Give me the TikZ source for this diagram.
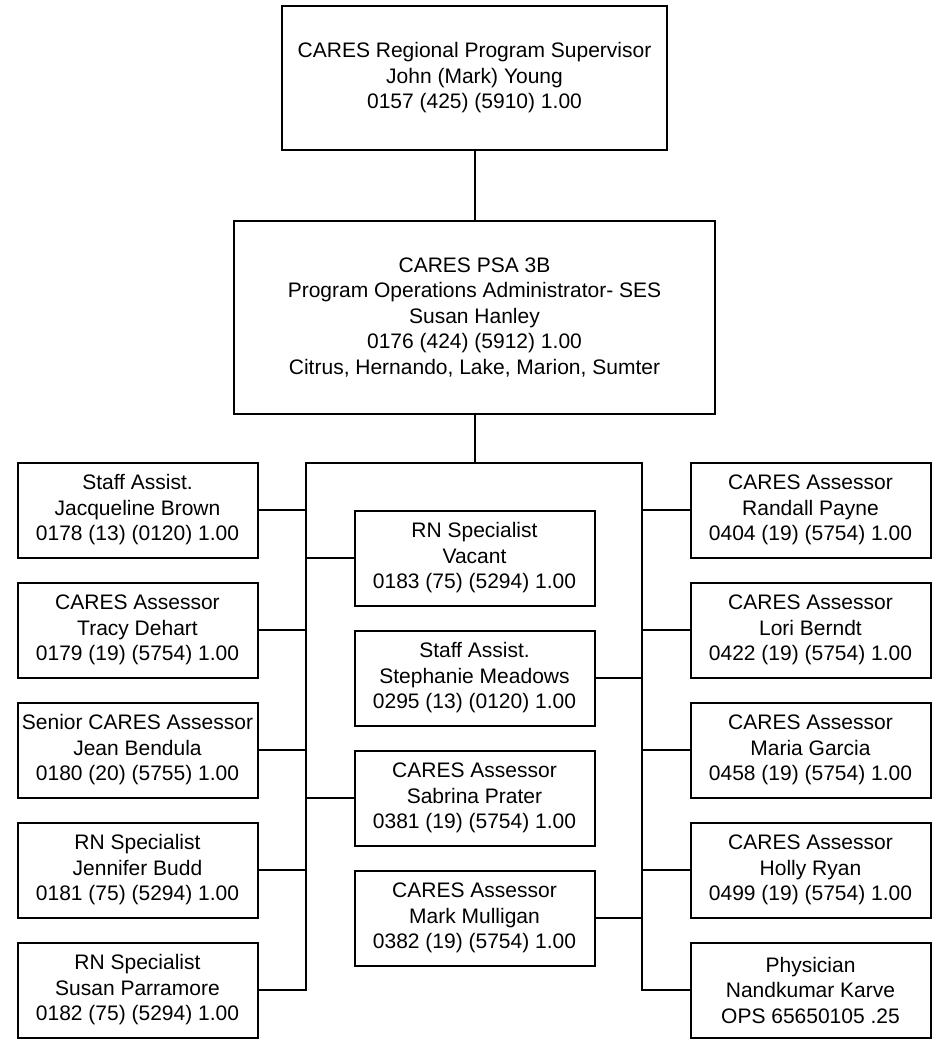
\documentclass[tikz,border=0pt]{standalone}
\usepackage{fontspec}
\setmainfont{Liberation Sans}
\begin{document}
\begin{tikzpicture}[x=1pt,y=-1pt,
    post/.style={rectangle, draw, line width=2pt, align=center, inner sep=0pt, font=\fontsize{21}{25.5}\selectfont},
    staff/.style={post, minimum width=240pt, minimum height=95pt},
    link/.style={line width=2pt}]
    \useasboundingbox (0,0) rectangle (933,1039);
    \node(supervisor) [post, minimum width=385pt, minimum height=144pt] at (474.5,78) {CARES Regional Program Supervisor\\John (Mark) Young\\0157 (425) (5910) 1.00};
    \node(admin) [post, minimum width=481pt, minimum height=193pt] at (474.5,317.5) {CARES PSA 3B\\Program Operations Administrator- SES\\Susan Hanley\\0176 (424) (5912) 1.00\\Citrus, Hernando, Lake, Marion, Sumter};
    % left column
    \node(brown) [staff] at (137.5,510) {Staff Assist.\\Jacqueline Brown\\0178 (13) (0120) 1.00};
    \node(dehart) [staff] at (137.5,630) {CARES Assessor\\Tracy Dehart\\0179 (19) (5754) 1.00};
    \node(bendula) [staff] at (137.5,750) {Senior CARES Assessor\\Jean Bendula\\0180 (20) (5755) 1.00};
    \node(budd) [staff] at (137.5,870) {RN Specialist\\Jennifer Budd\\0181 (75) (5294) 1.00};
    \node(parramore) [staff] at (137.5,990) {RN Specialist\\Susan Parramore\\0182 (75) (5294) 1.00};
    % middle column
    \node(vacant) [staff] at (474.5,558) {RN Specialist\\Vacant\\0183 (75) (5294) 1.00};
    \node(meadows) [staff] at (474.5,678) {Staff Assist.\\Stephanie Meadows\\0295 (13) (0120) 1.00};
    \node(prater) [staff] at (474.5,798) {CARES Assessor\\Sabrina Prater\\0381 (19) (5754) 1.00};
    \node(mulligan) [staff] at (474.5,918) {CARES Assessor\\Mark Mulligan\\0382 (19) (5754) 1.00};
    % right column
    \node(payne) [staff] at (810.5,510) {CARES Assessor\\Randall Payne\\0404 (19) (5754) 1.00};
    \node(berndt) [staff] at (810.5,630) {CARES Assessor\\Lori Berndt\\0422 (19) (5754) 1.00};
    \node(garcia) [staff] at (810.5,750) {CARES Assessor\\Maria Garcia\\0458 (19) (5754) 1.00};
    \node(ryan) [staff] at (810.5,870) {CARES Assessor\\Holly Ryan\\0499 (19) (5754) 1.00};
    \node(karve) [staff] at (810.5,990) {Physician\\Nandkumar Karve\\OPS 65650105 .25};
    % connectors
    \coordinate(busL) at (306,463);
    \coordinate(busR) at (642,463);
    \draw[link] (supervisor.south) -- (admin.north);
    \draw[link] (admin.south) -- (admin.south |- busL);
    \draw[link] (parramore.east) -| (busL) -- (busR) |- (karve.west);
    \foreach \n in {brown,dehart,bendula,budd,vacant,prater}
        \draw[link] (\n.east -| busL) -- (\n);
    \foreach \n in {payne,berndt,garcia,ryan,meadows,mulligan}
        \draw[link] (\n.west -| busR) -- (\n);
\end{tikzpicture}
\end{document}
